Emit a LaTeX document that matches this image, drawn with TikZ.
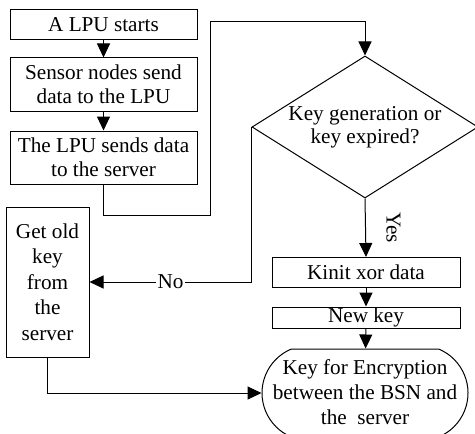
\documentclass[tikz,border=0pt]{standalone}
\usepackage{fontspec}
\setmainfont{Liberation Serif}
\usepackage{tikz}
\usetikzlibrary{arrows.meta}
\usetikzlibrary{shapes.geometric}
\usetikzlibrary{shapes.misc}

\begin{document}
\begin{tikzpicture}[x=0.5pt,y=-0.5pt,line width=0.5pt,
  font=\fontsize{10.6}{12.2}\selectfont,
  stepbox/.style={draw,rectangle,inner sep=0pt,align=center,minimum width=93.5pt},
  decide/.style={draw,diamond,aspect=1.6,inner sep=0pt,align=center,minimum width=113pt,minimum height=71pt},
  finish/.style={draw,rounded rectangle,rounded rectangle arc length=135,inner sep=0pt,minimum width=103pt,minimum height=44pt},
  flow/.style={-{Triangle[length=7pt,width=6.5pt]}}]

\clip (0,0) rectangle (475,433);

% left column
\node[stepbox,minimum height=15pt] (start) at (103.5,25) {A LPU starts};
\node[stepbox,minimum height=26.5pt] (sensor) at (103.5,84.5) {Sensor nodes send\\data to the LPU};
\node[stepbox,minimum height=26.5pt] (send) at (103.5,157.5) {The LPU sends data\\to the server};
\node[stepbox,minimum width=41.5pt,minimum height=75pt,font=\fontsize{10.6}{12.8}\selectfont] (oldkey) at (47.5,282) {Get old\\key\\from\\the\\server};

% right column
\node[decide,font=\fontsize{10.6}{11.6}\selectfont] (check) at (365,127) {Key generation or\\key expired?};
\node[stepbox,minimum width=94pt,minimum height=15pt] (kinit) at (366,272.5) {Kinit xor data};
\node[stepbox,minimum width=94pt,minimum height=10.5pt] (newkey) at (366,317.5) {New key};
\node[finish] (enc) at (365,393) {};
\node[align=center,font=\fontsize{10.6}{12.5}\selectfont] (enctext) at (365,392) {Key for Encryption\\between the BSN and\\the~~server};

\coordinate (t1) at (210,215);
\coordinate (t2) at (210,22);

\draw[flow] (start) -- (sensor);
\draw[flow] (sensor) -- (send);
\draw[flow] (send.south) |- (t1) -- (t2) -| (check.north);
\draw[flow] (check.west) |- (oldkey.east) node[pos=0.75,fill=white,inner sep=1pt] {No};
\draw[flow] (check.south) -- (kinit.north) node[midway,xshift=14pt,rotate=-90] {Yes};
\draw[flow] (kinit) -- (newkey);
\draw[flow] (newkey) -- (enc);
\draw[flow] (oldkey.south) |- (enc.west);
\end{tikzpicture}
\end{document}
